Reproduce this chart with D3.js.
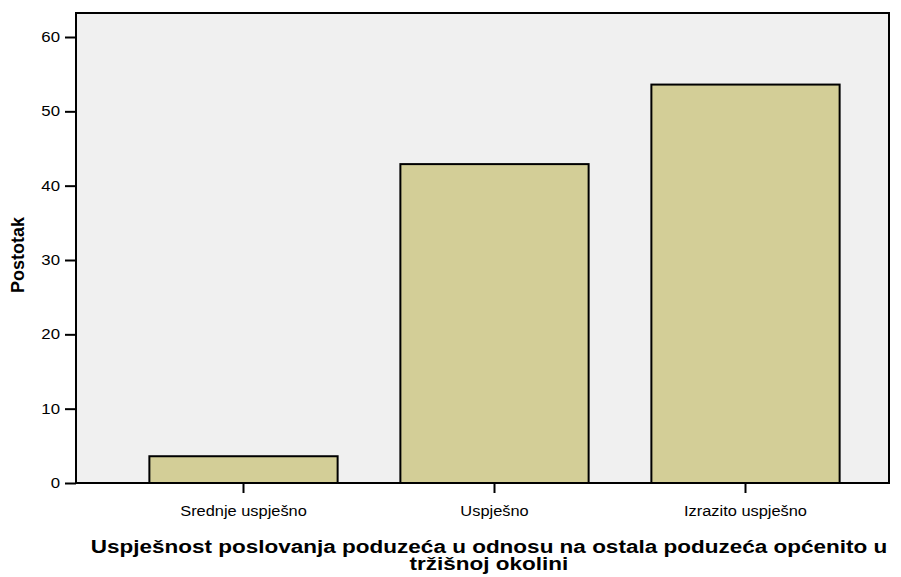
<!DOCTYPE html>
<html>
<head>
  <meta charset="utf-8">
  <script src="https://d3js.org/d3.v7.min.js"></script>
  <style>
    body { margin: 0; background: #fff; }
    svg text { font-family: "Liberation Sans", Arial, sans-serif; fill: #000; }
    .axis path, .axis line { stroke: #000; stroke-width: 2; }
  </style>
</head>
<body>
  <div id="chart"></div>
  <script>
    // podaci
    var categories = ["Srednje uspješno", "Uspješno", "Izrazito uspješno"];
    var values = [3.6, 42.9, 53.6];
    var yTicks = [0, 10, 20, 30, 40, 50, 60];
    var xTitle = ["Uspješnost poslovanja poduzeća u odnosu na ostala poduzeća općenito u", "tržišnoj okolini"];
    var yTitle = "Postotak";

    var width = 901, height = 577;
    var plot = { left: 76, right: 889, top: 13, bottom: 483 };

    var svg = d3.select("#chart").append("svg")
      .attr("width", width)
      .attr("height", height);

    // pozadina
    svg.append("rect")
      .attr("x", plot.left)
      .attr("y", plot.top)
      .attr("width", plot.right - plot.left)
      .attr("height", plot.bottom - plot.top)
      .attr("fill", "#f0f0f0");

    var x = d3.scaleBand()
      .domain(categories)
      .range([118, 871])
      .paddingInner(0.25)
      .paddingOuter(0.125);

    var y = d3.scaleLinear()
      .domain([0, 60])
      .range([plot.bottom, 37]);

    // stupci
    svg.selectAll(".bar")
      .data(values)
      .enter()
      .append("rect")
      .attr("class", "bar")
      .attr("x", function(d, i) { return x(categories[i]); })
      .attr("y", function(d) { return y(d); })
      .attr("width", x.bandwidth())
      .attr("height", function(d) { return y(0) - y(d); })
      .attr("fill", "#d3ce97")
      .attr("stroke", "#000")
      .attr("stroke-width", 2);

    // okvir
    svg.append("rect")
      .attr("x", plot.left)
      .attr("y", plot.top)
      .attr("width", plot.right - plot.left)
      .attr("height", plot.bottom - plot.top)
      .attr("fill", "none")
      .attr("stroke", "#000")
      .attr("stroke-width", 2);

    // y os
    var yAxis = svg.append("g")
      .attr("class", "axis")
      .attr("transform", "translate(" + plot.left + ",0)")
      .call(d3.axisLeft(y).tickValues(yTicks).tickSize(11).tickPadding(5));
    yAxis.select(".domain").remove();
    yAxis.selectAll("text").style("font-size", "14px");

    // x os
    var xAxis = svg.append("g")
      .attr("class", "axis")
      .attr("transform", "translate(0," + plot.bottom + ")")
      .call(d3.axisBottom(x).tickSize(10).tickPadding(13));
    xAxis.select(".domain").remove();
    xAxis.selectAll("text").style("font-size", "14px");

    // naslovi osi
    var cx = 489;
    svg.selectAll(".xtitle")
      .data(xTitle)
      .enter()
      .append("text")
      .attr("class", "xtitle")
      .attr("x", cx)
      .attr("y", function(d, i) { return 553 + i * 17; })
      .attr("text-anchor", "middle")
      .style("font-size", "18px")
      .style("font-weight", "bold")
      .text(function(d) { return d; });

    svg.append("text")
      .attr("transform", "translate(24," + ((plot.top + plot.bottom) / 2 + 7) + ") rotate(-90)")
      .attr("text-anchor", "middle")
      .style("font-size", "18px")
      .style("font-weight", "bold")
      .text(yTitle);

    // razvuci vodoravne tekstove (original je vodoravno razvučen)
    function stretchText(sel, k) {
      sel.each(function() {
        var len = this.getComputedTextLength();
        d3.select(this)
          .attr("textLength", len * k)
          .attr("lengthAdjust", "spacingAndGlyphs");
      });
    }
    stretchText(yAxis.selectAll("text"), 1.2);
    stretchText(xAxis.selectAll("text"), 1.17);
    stretchText(svg.selectAll(".xtitle"), 1.25);
  </script>
</body>
</html>
